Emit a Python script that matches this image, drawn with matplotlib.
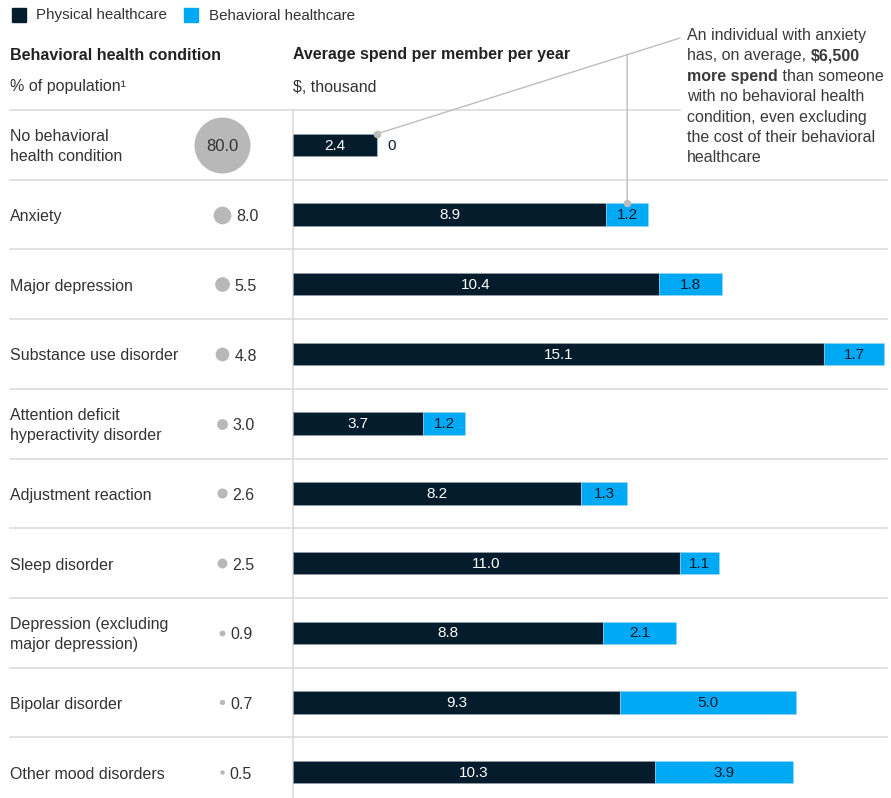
import matplotlib
matplotlib.use('Agg')
import matplotlib.pyplot as plt
from matplotlib.patches import Rectangle
import numpy as np

categories = ["No behavioral\nhealth condition", "Anxiety", "Major depression",
              "Substance use disorder", "Attention deficit\nhyperactivity disorder",
              "Adjustment reaction", "Sleep disorder",
              "Depression (excluding\nmajor depression)", "Bipolar disorder",
              "Other mood disorders"]
population_pct = [80.0, 8.0, 5.5, 4.8, 3.0, 2.6, 2.5, 0.9, 0.7, 0.5]
physical = [2.4, 8.9, 10.4, 15.1, 3.7, 8.2, 11.0, 8.8, 9.3, 10.3]
behavioral = [0, 1.2, 1.8, 1.7, 1.2, 1.3, 1.1, 2.1, 5.0, 3.9]
legend_labels = ["Physical healthcare", "Behavioral healthcare"]

plt.rcParams['font.family'] = ['Liberation Sans', 'DejaVu Sans']
FS = 11.5
W, H = 891, 798
fig = plt.figure(figsize=(W / 100, H / 100), dpi=100)

DARK = '#051C2C'
BLUE = '#00A9F4'
GRID = '#DCDCDC'
TXT = '#333333'
BUB = '#B8B8B8'
CONN = '#BDBDBD'

bg = fig.add_axes([0, 0, 1, 1])
bg.set_xlim(0, W)
bg.set_ylim(H, 0)
bg.axis('off')

row_h = 69.7
top = 110
n = len(categories)
x0 = 293
ppu = 35.18
ylim = (-0.5 + (H - top) / row_h, -0.5)

ax = fig.add_axes([x0 / W, 0, (W - x0) / W, 1 - top / H])
ax.set_xlim(0, (W - x0) / ppu)
ax.set_ylim(*ylim)
ax.axis('off')

bx = fig.add_axes([0, 0, x0 / W, 1 - top / H])
bx.set_xlim(0, x0)
bx.set_ylim(*ylim)
bx.axis('off')

# separators
for i in range(n):
    y = top + i * row_h
    bg.plot([10, 680 if i == 0 else 887], [y, y], color=GRID, lw=1.2, zorder=0)
bg.plot([x0, x0], [top, H], color=GRID, lw=1.2, zorder=0)

# bars
ys = np.arange(n)
bh = 0.32
ax.barh(ys, physical, height=bh, color=DARK, edgecolor='#9AA6AE', linewidth=0.4, zorder=3)
ax.barh(ys, behavioral, left=physical, height=bh, color=BLUE, edgecolor='#9AD8F5',
        linewidth=0.4, zorder=3)
for i in range(n):
    ax.text(physical[i] / 2, i + 0.01, f"{physical[i]:.1f}", ha='center', va='center',
            color='white', fontsize=FS - 0.5, zorder=4)
    if behavioral[i] > 0:
        ax.text(physical[i] + behavioral[i] / 2, i + 0.01, f"{behavioral[i]:.1f}",
                ha='center', va='center', color=DARK, fontsize=FS - 0.5, zorder=4)
    else:
        ax.text(physical[i] + 0.27, i + 0.01, "0", ha='left', va='center', color=DARK,
                fontsize=FS - 0.5, zorder=4)

# bubbles
cx = 222
rmax = 28
for i, v in enumerate(population_pct):
    r = rmax * np.sqrt(v / population_pct[0])
    bx.scatter([cx], [i], s=(2 * r * 0.72) ** 2, color=BUB, linewidths=0, zorder=3)
    if i == 0:
        bx.text(cx, i + 0.02, f"{v:.1f}", ha='center', va='center', color=TXT,
                fontsize=FS + 0.5, zorder=4)
    else:
        bx.text(cx + r + 5.5, i + 0.03, f"{v:.1f}", ha='left', va='center', color=TXT,
                fontsize=FS, zorder=4)

# category labels
for i, c in enumerate(categories):
    bg.text(10, top + (i + 0.5) * row_h + 2, c, ha='left', va='center', color=TXT,
            fontsize=FS, linespacing=1.4)

# legend
bg.add_patch(Rectangle((12, 8), 14, 14, color=DARK))
bg.text(36, 15.5, legend_labels[0], ha='left', va='center', color=TXT, fontsize=FS - 0.6)
bg.add_patch(Rectangle((184, 8), 14, 14, color=BLUE))
bg.text(209, 15.5, legend_labels[1], ha='left', va='center', color=TXT, fontsize=FS - 0.6)

# headers
bg.text(10, 55, "Behavioral health condition", ha='left', va='center', color='#222222',
        fontsize=FS, fontweight='bold')
bg.text(10, 87, "% of population\u00b9", ha='left', va='center', color=TXT, fontsize=FS)
bg.text(x0, 55, "Average spend per member per year", ha='left', va='center',
        color='#222222', fontsize=FS, fontweight='bold')
bg.text(x0, 87, "$, thousand", ha='left', va='center', color=TXT, fontsize=FS)

# annotation text with mixed weights
ann_lines = [
    [("An individual with anxiety", 'normal')],
    [("has, on average, ", 'normal'), ("$6,500", 'bold')],
    [("more spend", 'bold'), (" than someone", 'normal')],
    [("with no behavioral health", 'normal')],
    [("condition, even excluding", 'normal')],
    [("the cost of their behavioral", 'normal')],
    [("healthcare", 'normal')],
]
renderer = fig.canvas.get_renderer()
ax_x, ay0, aspc = 687, 35.5, 20.4
for li, pieces in enumerate(ann_lines):
    xcur = ax_x
    for txt, wt in pieces:
        t = bg.text(xcur, ay0 + li * aspc, txt, ha='left', va='center', color='#3A3A3A',
                    fontsize=FS, fontweight=wt)
        bb = t.get_window_extent(renderer=renderer)
        xcur += bb.width

# connectors
p0 = (physical[0], 0 - bh / 2)
p1_fig = (680, H - 38)
ax.annotate('', xy=p0, xycoords='data', xytext=p1_fig, textcoords='figure pixels',
            arrowprops=dict(arrowstyle='-', color=CONN, lw=1, shrinkA=0, shrinkB=0))
ax.scatter([p0[0]], [p0[1]], s=30, color=CONN, zorder=5, clip_on=False, linewidths=0)

pv = (physical[1] + behavioral[1] / 2, 1 - bh / 2)
d0 = ax.transData.transform(p0)
dv = ax.transData.transform(pv)
yint = d0[1] + (p1_fig[1] - d0[1]) * (dv[0] - d0[0]) / (p1_fig[0] - d0[0])
ax.annotate('', xy=pv, xycoords='data', xytext=(dv[0], yint), textcoords='figure pixels',
            arrowprops=dict(arrowstyle='-', color=CONN, lw=1, shrinkA=0, shrinkB=0))
ax.scatter([pv[0]], [pv[1]], s=30, color=CONN, zorder=5, clip_on=False, linewidths=0)

fig.savefig('out.png', dpi=100)
